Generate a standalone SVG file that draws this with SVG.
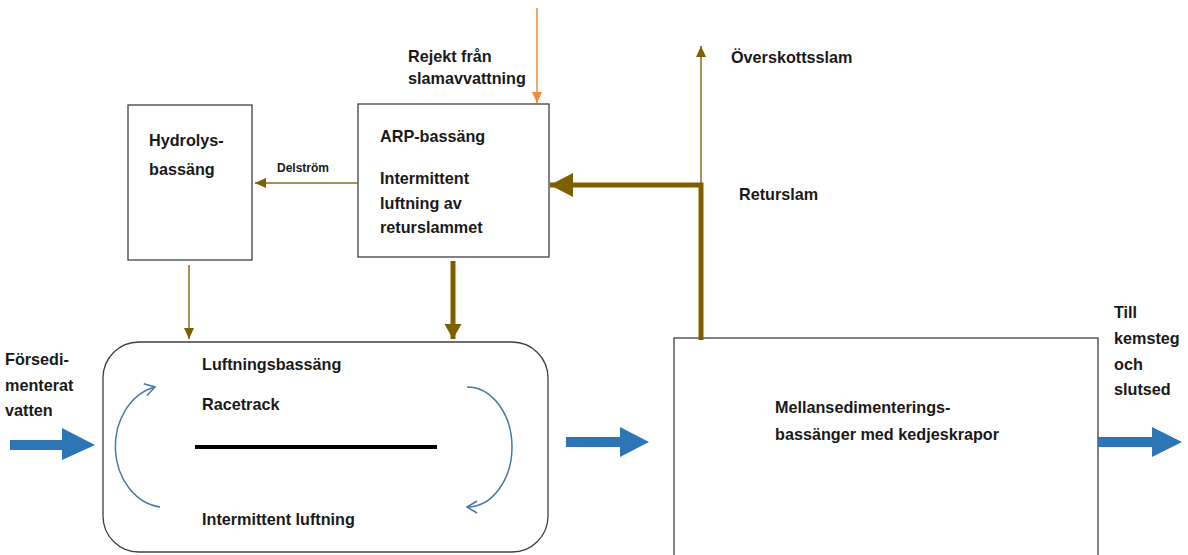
<svg xmlns="http://www.w3.org/2000/svg" width="1188" height="555" viewBox="0 0 1188 555">
<style>
text{font-family:"Liberation Sans",Arial,sans-serif;font-weight:bold;font-size:16.2px;fill:#1a1a1a}
.sm{font-size:12px}
.box{fill:#fff;stroke:#404040;stroke-width:1.3}
.thin{stroke:#8C6D1F;stroke-width:1.5;fill:none}
.thick{stroke:#7F6000;stroke-width:5;fill:none}
.curve{stroke:#4A76A8;stroke-width:1.5;fill:none}
.blue{fill:#2E75B6}
</style>
<defs>
<marker id="hThin" markerUnits="userSpaceOnUse" markerWidth="12" markerHeight="10" refX="11" refY="5" orient="auto"><path d="M0,0 L11,5 L0,10 Z" fill="#7F6000"/></marker>
<marker id="hThick" markerUnits="userSpaceOnUse" markerWidth="24" markerHeight="24" refX="23" refY="12" orient="auto"><path d="M0,0 L23,12 L0,24 Z" fill="#7F6000"/></marker>
<marker id="hMid" markerUnits="userSpaceOnUse" markerWidth="16" markerHeight="17" refX="15" refY="8.5" orient="auto"><path d="M0,0 L15,8.5 L0,17 Z" fill="#7F6000"/></marker>
<marker id="hOrange" markerUnits="userSpaceOnUse" markerWidth="12" markerHeight="10" refX="11" refY="5" orient="auto"><path d="M0,0 L11,5 L0,10 Z" fill="#F08A3C"/></marker>
<marker id="hChev" markerUnits="userSpaceOnUse" markerWidth="14" markerHeight="14" refX="11" refY="7" orient="auto"><path d="M1,1 L11,7 L1,13" fill="none" stroke="#4A76A8" stroke-width="1.5"/></marker>
</defs>

<g id="hydrolys">
<rect class="box" x="128" y="105" width="124" height="155"/>
<text x="149" y="146">Hydrolys-</text>
<text x="149" y="175">bassäng</text>
</g>

<g id="arp">
<rect class="box" x="358" y="104" width="191" height="153"/>
<text x="380" y="142">ARP-bassäng</text>
<text x="380" y="184">Intermittent</text>
<text x="380" y="209">luftning av</text>
<text x="380" y="233">returslammet</text>
</g>

<g id="racetrack">
<rect class="box" x="103" y="342" width="445" height="210" rx="36"/>
<text x="202" y="370">Luftningsbassäng</text>
<text x="202" y="410">Racetrack</text>
<line x1="195" y1="447" x2="437" y2="447" stroke="#000" stroke-width="4"/>
<text x="202" y="525">Intermittent luftning</text>
<path class="curve" d="M160,507 A51,61 0 0 1 155,387" marker-end="url(#hChev)"/>
<path class="curve" d="M467,387 A45,60 0 0 1 467,507" marker-end="url(#hChev)"/>
</g>

<g id="mellansed">
<rect class="box" x="674" y="338" width="424" height="230"/>
<text x="775" y="413">Mellansedimenterings-</text>
<text x="775" y="440">bassänger med kedjeskrapor</text>
</g>

<g id="labels">
<text x="408" y="62">Rejekt från</text>
<text x="408" y="84">slamavvattning</text>
<text x="731" y="63">Överskottsslam</text>
<text x="739" y="200">Returslam</text>
<text class="sm" x="277" y="172">Delström</text>
<text x="5" y="365">Försedi-</text>
<text x="5" y="391">menterat</text>
<text x="5" y="416">vatten</text>
<text x="1114" y="318">Till</text>
<text x="1114" y="344">kemsteg</text>
<text x="1114" y="370">och</text>
<text x="1114" y="395">slutsed</text>
</g>

<g id="connectors">
<line x1="537" y1="8" x2="537" y2="103" stroke="#F08A3C" stroke-width="1.5" marker-end="url(#hOrange)"/>
<line class="thin" x1="358" y1="183" x2="255" y2="183" marker-end="url(#hThin)"/>
<line class="thin" x1="189" y1="265" x2="189" y2="339" marker-end="url(#hThin)"/>
<line class="thick" x1="453" y1="261" x2="453" y2="339" marker-end="url(#hMid)"/>
<line class="thin" x1="701" y1="183" x2="701" y2="46" marker-end="url(#hThin)"/>
<path class="thick" d="M701,340 L701,185 L550,185" marker-end="url(#hThick)"/>
<polygon class="blue" points="10,440 62,440 62,428 95,445 62,460 62,450 10,450"/>
<polygon class="blue" points="566,437 620,437 620,427 649,442 620,457 620,447 566,447"/>
<polygon class="blue" points="1098,437 1152,437 1152,427 1182,442 1152,457 1152,447 1098,447"/>
</g>
</svg>
